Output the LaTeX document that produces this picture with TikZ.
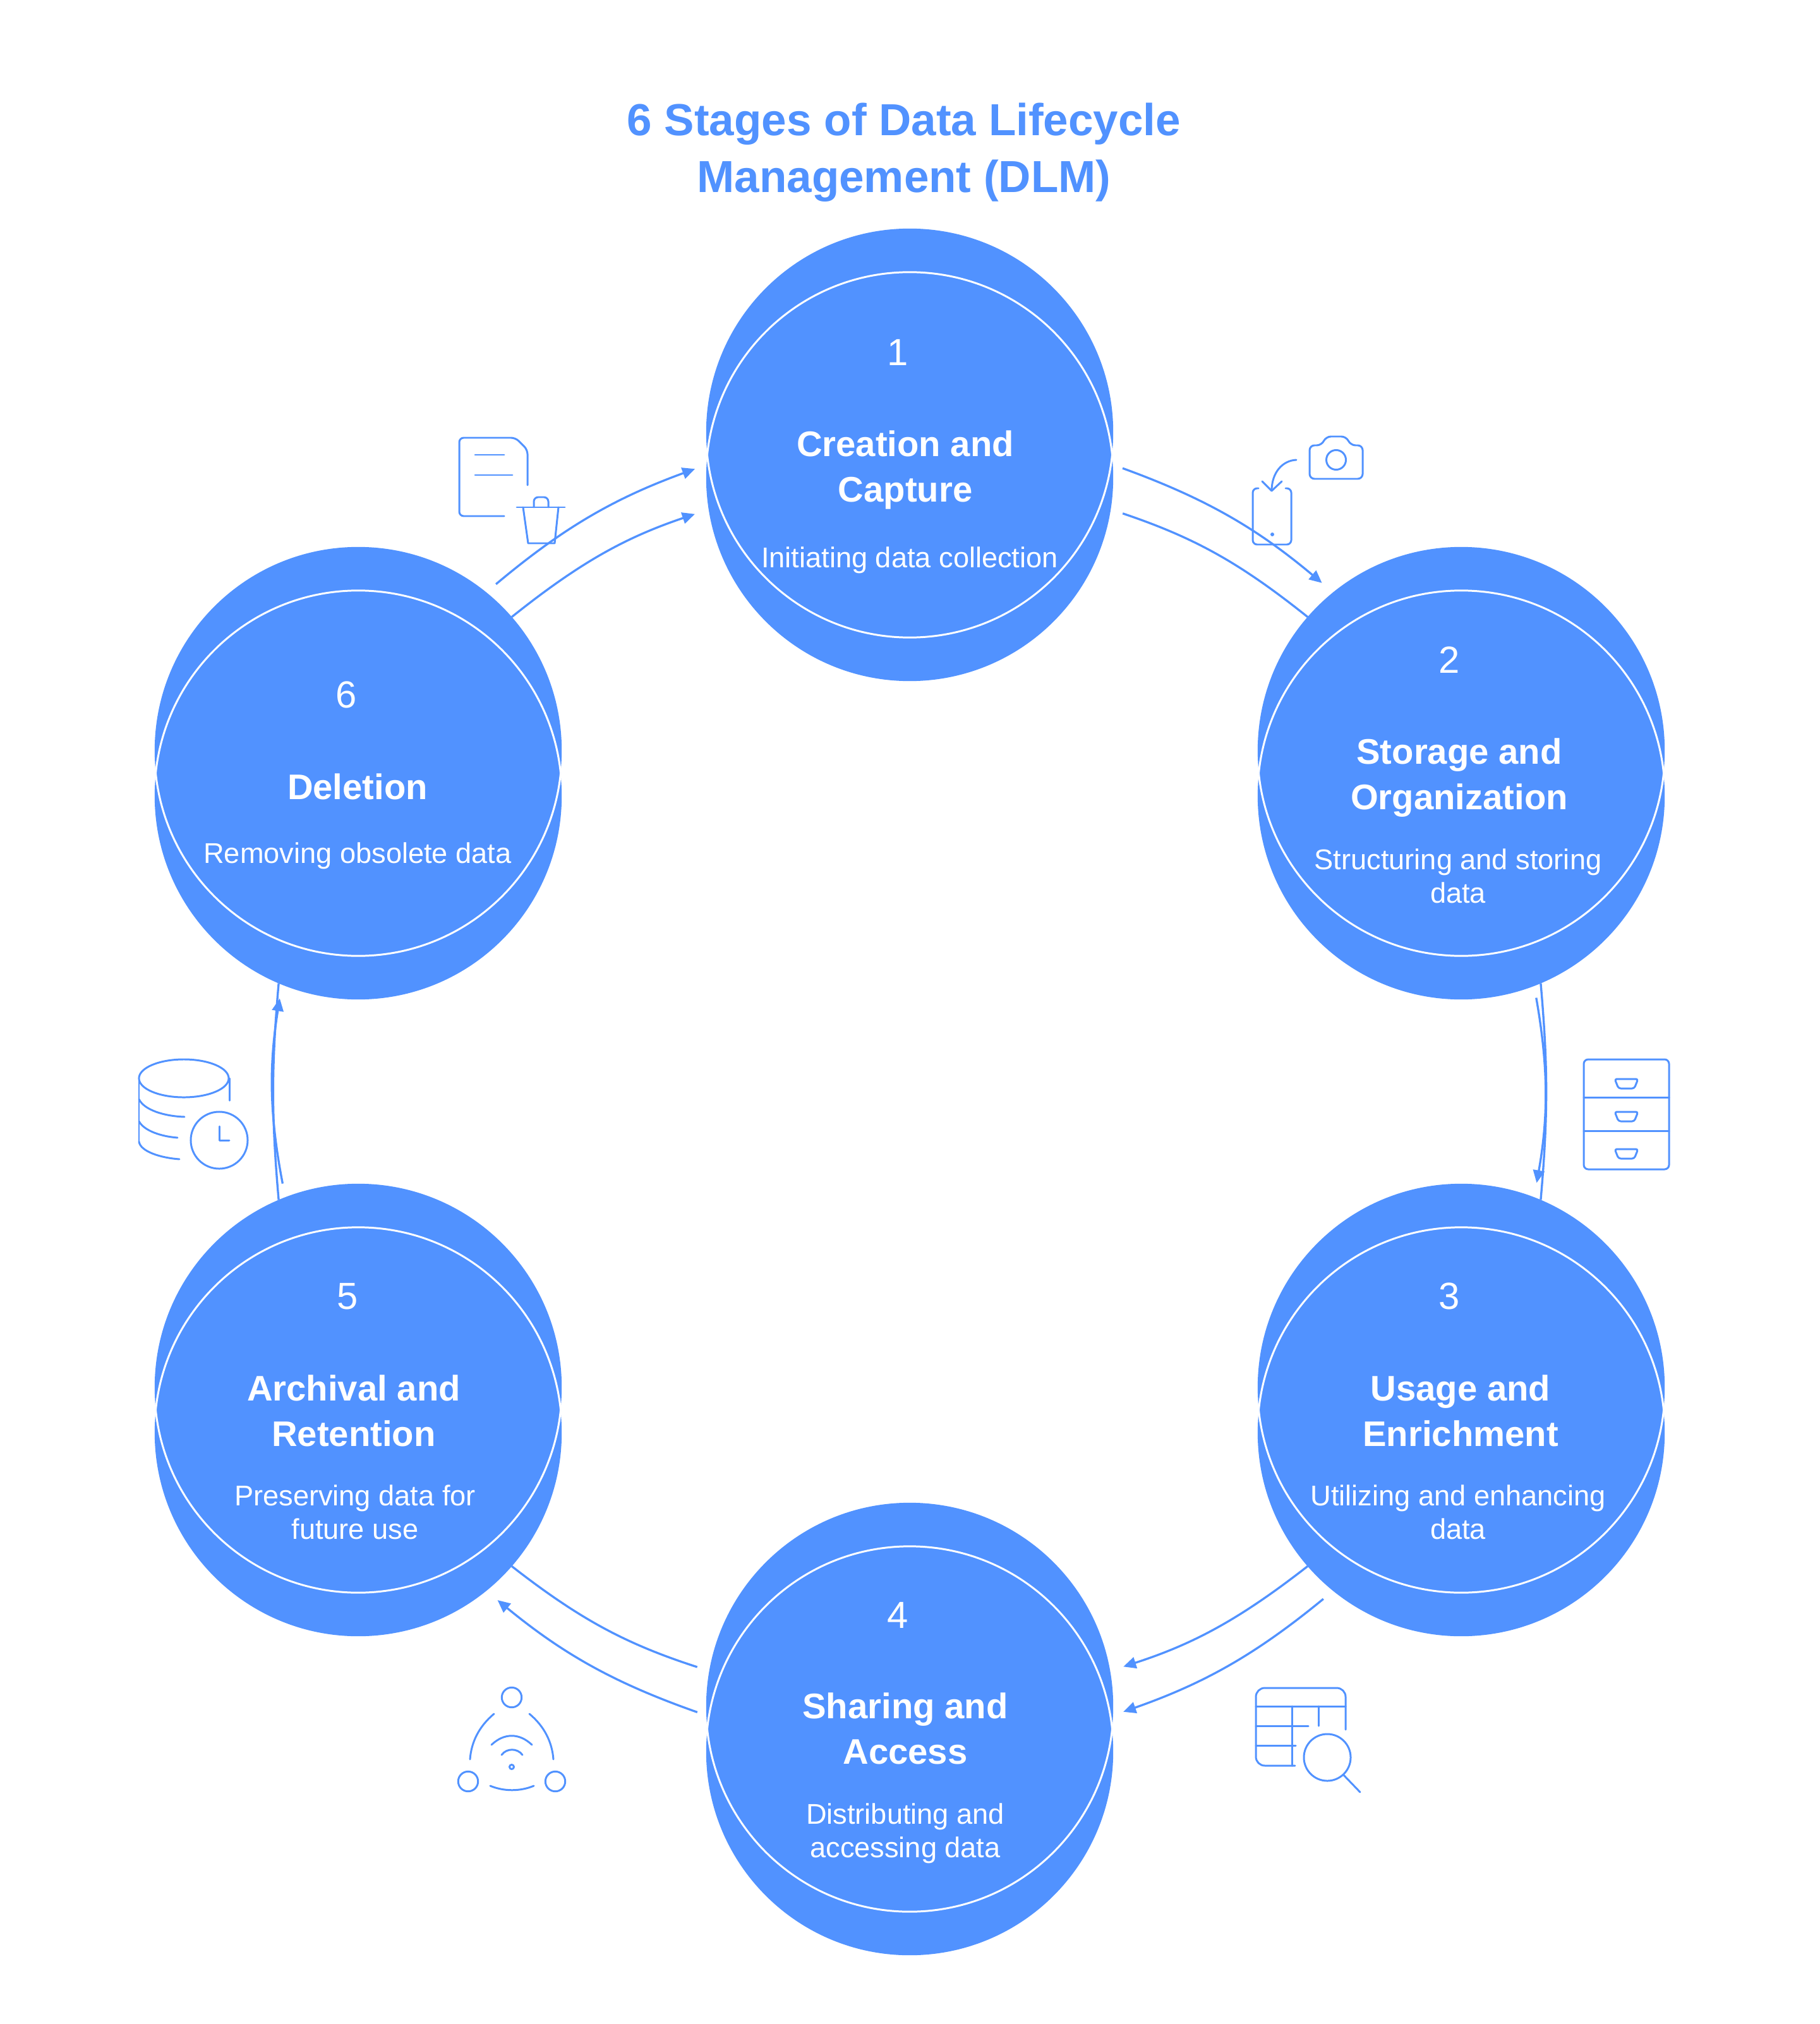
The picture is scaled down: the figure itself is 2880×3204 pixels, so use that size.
\documentclass[tikz,border=0pt]{standalone}
\usepackage{fontspec}
\setmainfont{Liberation Sans}
\usetikzlibrary{arrows.meta}
\definecolor{dlmblue}{HTML}{5192FF}
\tikzset{
  stage/.style={circle, fill=dlmblue, minimum size=6.44cm, inner sep=0pt, outer sep=0pt},
  lens/.style={draw=white, line width=0.85pt},
  flow/.style={draw=dlmblue, line width=0.95pt, -{Triangle[length=0.2cm, width=0.18cm]}},
  flowplain/.style={draw=dlmblue, line width=0.95pt},
  icon/.style={draw=dlmblue, line width=0.85pt, line cap=round, line join=round},
  stagenum/.style={text=white, font=\fontsize{17}{20}\selectfont},
  stagename/.style={text=white, align=center, font=\bfseries\fontsize{16}{20.4}\selectfont},
  stagedesc/.style={text=white, align=center, font=\fontsize{12.85}{15}\selectfont}
}
\begin{document}
\begin{tikzpicture}[x=0.01cm, y=-0.01cm]
  \useasboundingbox (0,0) rectangle (2880,3204);
  % Title
  \node[text=dlmblue, align=center, font=\bfseries\fontsize{20.2}{25.6}\selectfont] (title) at (1431,241)
    {6 Stages of Data Lifecycle\\Management (DLM)};
  % Stages on the ring, each one two overlapping circles
  \foreach \i/\x/\y in {1/1440/720, 2/2313/1224, 3/2313/2232, 4/1440/2737, 5/567/2232, 6/567/1224} {
    \node[stage] (n\i up) at (\x,\y-36) {};
    \node[stage] (n\i dn) at (\x,\y+36) {};
    \begin{scope}
      \clip (\x,\y-33) circle (3.22cm);
      \draw[lens] (\x,\y+33) circle (3.22cm);
    \end{scope}
    \begin{scope}
      \clip (\x,\y+33) circle (3.22cm);
      \draw[lens] (\x,\y-33) circle (3.22cm);
    \end{scope}
  }
  % Stage texts
  \foreach \i/\nx/\ny in {1/1421/558, 2/2294/1045, 3/2294/2052, 4/1421/2557, 5/550/2052, 6/548/1100} {
    \node[stagenum] (num\i) at (\nx,\ny) {\i};
  }
  \node[stagename] (name1) at (1433,744) {Creation and\\Capture};
  \node[stagename] (name2) at (2310,1231) {Storage and\\Organization};
  \node[stagename] (name3) at (2312,2233) {Usage and\\Enrichment};
  \node[stagename] (name4) at (1433,2736) {Sharing and\\Access};
  \node[stagename] (name5) at (560,2233) {Archival and\\Retention};
  \node[stagename] (name6) at (566,1245) {Deletion};
  \node[stagedesc] (desc1) at (1440,887) {Initiating data collection};
  \node[stagedesc] (desc2) at (2308,1387) {Structuring and storing\\data};
  \node[stagedesc] (desc3) at (2308,2394) {Utilizing and enhancing\\data};
  \node[stagedesc] (desc4) at (1433,2902) {Distributing and\\accessing data};
  \node[stagedesc] (desc5) at (562,2394) {Preserving data for\\future use};
  \node[stagedesc] (desc6) at (566,1355) {Removing obsolete data};
  % Connections between stages
  \draw[flow, shorten <=0.2cm, shorten >=0.23cm] (n1up.-9) to[bend left=10] (n2up.129);
  \draw[flowplain, shorten <=0.2cm] (n1dn.-9) to[bend left=10] (n2up.139);
  \draw[flow, shorten <=0.19cm, shorten >=0.23cm] (n2dn.-69) to[bend left=10] (n3up.69);
  \draw[flowplain] (n2dn.-67) to[bend left=5] (n3up.67);
  \draw[flow, shorten >=0.22cm] (n3dn.221) to[bend left=10] (n4up.10);
  \draw[flow, shorten <=0.2cm, shorten >=0.22cm] (n3dn.231) to[bend left=10] (n4dn.10);
  \draw[flowplain, shorten <=0.2cm] (n4up.170) to[bend left=10] (n5dn.-41);
  \draw[flow, shorten <=0.2cm, shorten >=0.23cm] (n4dn.170) to[bend left=10] (n5dn.-51);
  \draw[flowplain] (n5up.113) to[bend left=5] (n6dn.247);
  \draw[flow, shorten <=0.22cm, shorten >=0.22cm] (n5up.111) to[bend left=10] (n6dn.248);
  \draw[flow, shorten >=0.23cm] (n6up.41) to[bend left=10] (n1dn.189);
  \draw[flow, shorten <=0.2cm, shorten >=0.23cm] (n6up.51) to[bend left=10] (n1up.189);
  % Phone and camera icon
  \draw[icon, rounded corners=2.2pt] (2073,758) -- (2073,705) -- (2092,705) -- (2099,691) -- (2131,691) -- (2138,705) -- (2157,705) -- (2157,758) -- cycle;
  \draw[icon] (2115,728) circle (0.155cm);
  \draw[icon] (2052,728) .. controls (2030,729) and (2013,748) .. (2013,777);
  \draw[icon] (1998,762) -- (2013,777) -- (2029,762);
  \draw[icon, rounded corners=2pt] (1992,773) -- (1983,773) -- (1983,862) -- (2044,862) -- (2044,773) -- (2035,773);
  \fill[dlmblue] (2014,846) circle (0.03cm);
  % Cabinet icon
  \draw[icon, rounded corners=2pt] (2507,1677) rectangle (2642,1851);
  \draw[icon] (2507,1737) -- (2642,1737);
  \draw[icon] (2507,1790) -- (2642,1790);
  \foreach \hy in {1708,1760,1819} {
    \draw[icon, rounded corners=1pt] (2556,\hy) -- (2593,\hy) -- (2587,\hy+15) -- (2562,\hy+15) -- cycle;
  }
  % Table and magnifier icon
  \draw[icon, rounded corners=4pt] (2050,2795) -- (1988,2795) -- (1988,2672) -- (2130,2672) -- (2130,2738);
  \draw[icon] (1988,2701) -- (2130,2701);
  \draw[icon] (2045,2701) -- (2045,2795);
  \draw[icon] (2087,2701) -- (2087,2732);
  \draw[icon] (1988,2732) -- (2071,2732);
  \draw[icon] (1988,2763) -- (2051,2763);
  \draw[icon] (2101,2782) circle (0.37cm);
  \draw[icon] (2127,2810) -- (2153,2837);
  % Network icon
  \foreach \cx/\cy in {810/2687, 741/2820, 879/2820} {
    \draw[icon] (\cx,\cy) circle (0.157cm);
  }
  \draw[icon] (782,2713) .. controls (758,2733) and (746,2758) .. (744,2785);
  \draw[icon] (838,2713) .. controls (862,2733) and (874,2758) .. (876,2785);
  \draw[icon] (776,2827) .. controls (798,2836) and (823,2836) .. (845,2827);
  \draw[icon] (778,2762) .. controls (798,2743) and (822,2743) .. (842,2762);
  \draw[icon] (794,2778) .. controls (802,2767) and (819,2767) .. (827,2778);
  \draw[icon] (810,2797) circle (0.035cm);
  % Database and clock icon
  \draw[icon] (291,1707) ellipse (0.71cm and 0.30cm);
  \draw[icon] (220,1707) -- (220,1807);
  \draw[icon] (363,1707) -- (363,1742);
  \draw[icon] (220,1740) .. controls (228,1757) and (260,1767) .. (292,1768);
  \draw[icon] (220,1775) .. controls (228,1790) and (255,1799) .. (281,1801);
  \draw[icon] (220,1807) .. controls (222,1823) and (255,1833) .. (284,1835);
  \draw[icon] (347,1805) circle (0.45cm);
  \draw[icon] (347,1783) -- (347,1805) -- (363,1805);
  % Document and bin icon
  \draw[icon, rounded corners=2pt] (798,817) -- (727,817) -- (727,693) -- (816,693) -- (835,712) -- (835,768);
  \draw[icon] (752,720) -- (798,720);
  \draw[icon] (752,752) -- (811,752);
  \draw[icon] (818,803) -- (894,803);
  \draw[icon] (828,803) -- (836,860) -- (878,860) -- (884,803);
  \draw[icon, rounded corners=2pt] (845,803) -- (845,787) -- (868,787) -- (868,803);
\end{tikzpicture}
\end{document}
